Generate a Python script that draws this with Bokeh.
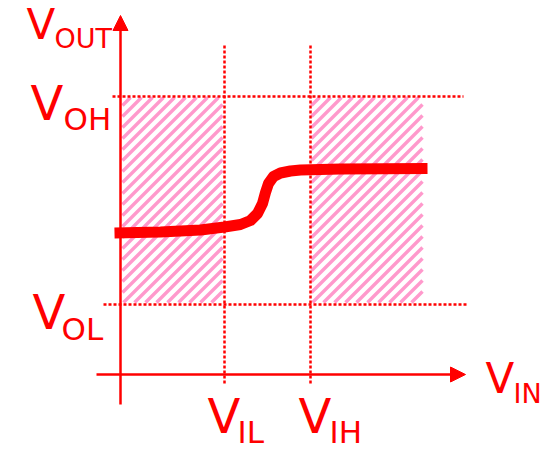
from bokeh.plotting import figure
from bokeh.models import Range1d, Arrow, NormalHead
from bokeh.core.properties import value
from bokeh.embed import file_html
from bokeh.resources import INLINE

# ---- data (schematic units, origin at the axes crossing) ----
vin = [-6, 40, 80, 104, 120, 130, 137, 142, 145, 148, 153, 160, 170, 180, 220, 307]
vout = [141.5, 142.5, 144.5, 147.5, 150, 154, 161, 171, 182, 191, 198, 201.5, 203.5, 204.5, 205.5, 206]

V_IL = 104
V_IH = 190
V_OL = 70
V_OH = 278
VIN_MAX_REGION = 302

RED = "#ff0000"
PINK = "#ff99cc"
FONT = "DejaVu Sans"

p = figure(width=553, height=450, output_backend="svg", toolbar_location=None,
           x_range=Range1d(-120, 433), y_range=Range1d(-76, 374),
           x_axis_type=None, y_axis_type=None, min_border=0)
p.grid.visible = False
p.outline_line_color = None
p.background_fill_color = "white"
p.border_fill_color = "white"

# hatched noise-margin regions, 45-degree stripes computed from region bounds
regions = [(2, V_IL - 2, V_OL + 2, V_OH - 1), (V_IH + 1, VIN_MAX_REGION, V_OL + 2, V_OH - 1)]
period = 11
hx0, hy0, hx1, hy1 = [], [], [], []
for (l, r, b, t) in regions:
    c = b - r
    while c < t - l:
        xs = max(l, b - c)
        xe = min(r, t - c)
        if xe > xs:
            hx0.append(xs); hy0.append(xs + c)
            hx1.append(xe); hy1.append(xe + c)
        c += period
p.segment(x0=hx0, y0=hy0, x1=hx1, y1=hy1, line_color=PINK, line_width=3.4, line_cap="butt")

# dotted guide lines
p.segment(x0=[-8, -17], y0=[V_OH, V_OL], x1=[343, 348], y1=[V_OH, V_OL],
          line_color=RED, line_width=2.5, line_dash="3 2")
p.segment(x0=[V_IL, V_IH], y0=[329, 329], x1=[V_IL, V_IH], y1=[-10, -10],
          line_color=RED, line_width=2.5, line_dash="3 2")

# axes
p.add_layout(Arrow(end=NormalHead(size=15, fill_color=RED, line_color=RED),
                   x_start=0, y_start=-30, x_end=0, y_end=359,
                   line_color=RED, line_width=2.5))
p.add_layout(Arrow(end=NormalHead(size=15, fill_color=RED, line_color=RED),
                   x_start=-24, y_start=0, x_end=345, y_end=0,
                   line_color=RED, line_width=2.5))

# transfer curve
p.line(vin, vout, line_color=RED, line_width=11, line_join="round", line_cap="butt")

# labels: (main x, main baseline y, main size, sub text, sub x, sub baseline y, sub size)
labels = [
    (-94, 335, 42, "OUT", -66, 326, 27),
    (-90, 254, 48, "OH", -57, 244, 31),
    (-88, 45, 48, "OL", -59, 34, 31),
    (87, -59, 48, "IL", 117, -69, 31),
    (178, -59, 48, "IH", 209, -69, 31),
    (365, -19, 42, "IN", 393, -29, 27),
]
for mx, my, ms, sub, sx, sy, ss in labels:
    p.text(x=[mx], y=[my + 0.36 * ms], text=["V"], text_color=RED, text_font=value(FONT),
           text_font_size=value(f"{ms}px"), text_baseline="alphabetic", text_align="left")
    p.text(x=[sx], y=[sy + 0.36 * ss], text=[sub], text_color=RED, text_font=value(FONT),
           text_font_size=value(f"{ss}px"), text_baseline="alphabetic", text_align="left")

open("out.html", "w").write(file_html(p, INLINE))
